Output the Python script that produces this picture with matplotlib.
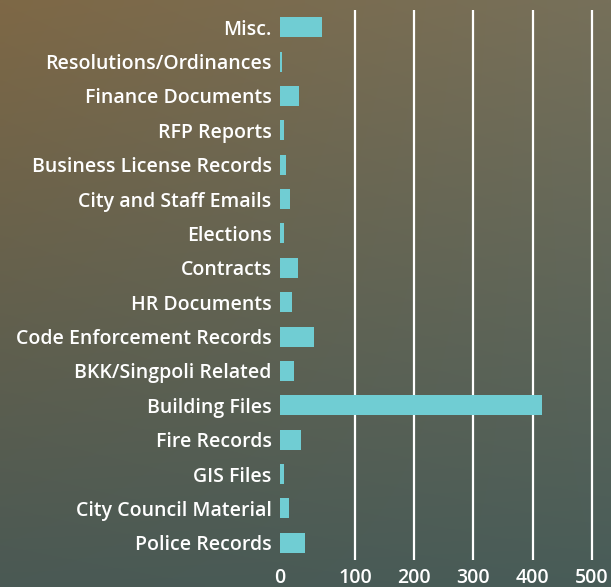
import numpy as np
import matplotlib
matplotlib.use("Agg")
import matplotlib.pyplot as plt

categories = ["Misc.", "Resolutions/Ordinances", "Finance Documents", "RFP Reports",
              "Business License Records", "City and Staff Emails", "Elections", "Contracts",
              "HR Documents", "Code Enforcement Records", "BKK/Singpoli Related",
              "Building Files", "Fire Records", "GIS Files", "City Council Material",
              "Police Records"]
values = [56, 3, 25, 5, 8, 13, 5, 24, 16, 45, 19, 415, 28, 5, 12, 33]
xticks = [0, 100, 200, 300, 400, 500]

K = 75 / 59.3

def fwd(x):
    x = np.asarray(x, float)
    return np.where(x <= 100, x * K, 100 * K + (x - 100))

def inv(y):
    y = np.asarray(y, float)
    return np.where(y <= 100 * K, y / K, y - 100 * K + 100)

W, H = 611, 587
fig = plt.figure(figsize=(W / 100, H / 100), dpi=100)

# background gradient
bg = fig.add_axes([0, 0, 1, 1], zorder=0)
c_tl = np.array([126, 104, 70]) / 255
c_tr = np.array([118, 112, 90]) / 255
c_bl = np.array([74, 89, 84]) / 255
c_br = np.array([72, 92, 88]) / 255
ny, nx = 100, 100
ty = np.linspace(0, 1, ny)[:, None, None]
tx = np.linspace(0, 1, nx)[None, :, None]
img = (1 - ty) * ((1 - tx) * c_tl + tx * c_tr) + ty * ((1 - tx) * c_bl + tx * c_br)
bg.imshow(img, aspect="auto", extent=[0, 1, 0, 1], interpolation="bilinear")
bg.set_axis_off()

left = 280 / W
right = 1.0
top = 1 - 10 / H
bottom = 1 - 560 / H
ax = fig.add_axes([left, bottom, right - left, top - bottom], zorder=1)
ax.patch.set_alpha(0)
ax.set_xscale("function", functions=(fwd, inv))

y = np.arange(len(categories))
ax.barh(y, values, height=0.58, color="#70cdd3", zorder=3)
ax.set_ylim(len(categories) - 0.5, -0.5)
ax.set_xlim(0, 532)
ax.set_xticks(xticks)
ax.set_xticklabels([str(t) for t in xticks])
ax.set_yticks(y)
ax.set_yticklabels(categories)
for t in xticks[1:]:
    ax.axvline(t, color="white", lw=1.6, zorder=2)
for s in ax.spines.values():
    s.set_visible(False)
ax.tick_params(axis="both", length=0, colors="white")
ax.tick_params(axis="y", pad=6)
ax.tick_params(axis="x", pad=6)
for lab in ax.get_yticklabels() + ax.get_xticklabels():
    lab.set_fontfamily("Open Sans")
    lab.set_fontsize(14)
    lab.set_fontweight("semibold")
    lab.set_color("white")
for lab in ax.get_yticklabels():
    lab.set_y(lab.get_position()[1])

fig.savefig("out.png", dpi=100)
